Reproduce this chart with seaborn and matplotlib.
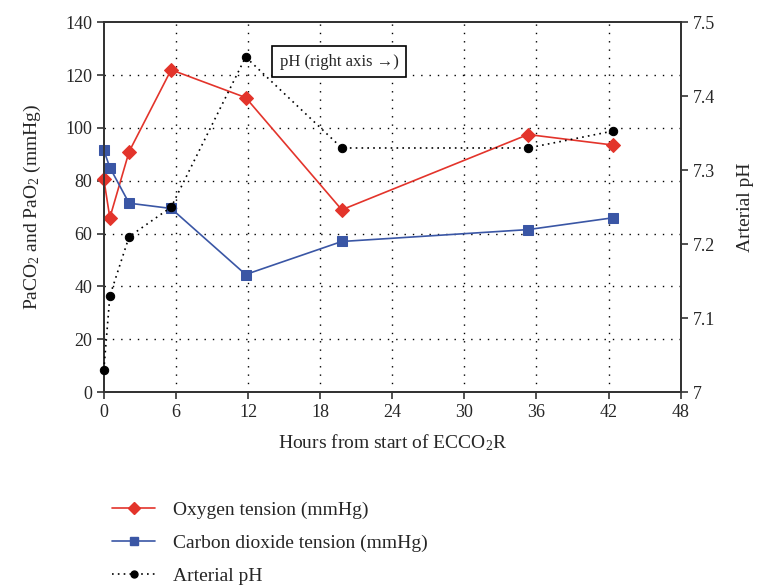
import numpy as np
import pandas as pd
import matplotlib
matplotlib.use("Agg")
import matplotlib.pyplot as plt
import seaborn as sns
from matplotlib.lines import Line2D

# donnees
hours = [0, 0.5, 2.1, 5.6, 11.8, 19.8, 35.3, 42.4]
oxygen = [80.5, 66, 91, 122, 111.5, 69, 97.5, 93.5]
co2 = [91.5, 85, 71.5, 69.5, 44.5, 57, 61.5, 66]
ph = [7.03, 7.13, 7.21, 7.25, 7.453, 7.33, 7.33, 7.353]

RED = "#e3342b"
BLUE = "#3a56a5"

sns.set_style("ticks")
plt.rcParams["font.family"] = ["Liberation Serif", "DejaVu Serif"]
plt.rcParams["mathtext.fontset"] = "custom"
plt.rcParams["mathtext.rm"] = "Liberation Serif"
plt.rcParams["mathtext.it"] = "Liberation Serif:italic"

fig = plt.figure(figsize=(7.58, 5.86), dpi=100)
ax = fig.add_axes([0.137, 0.331, 0.761, 0.631])
ax2 = ax.twinx()

# grille pointillee
for v in range(6, 48, 6):
    ax.axvline(v, color="black", lw=1.0, ls=(0, (1, 5)), zorder=0)
for v in range(20, 140, 20):
    ax.axhline(v, color="black", lw=1.0, ls=(0, (1, 5)), zorder=0)

sns.lineplot(x=hours, y=oxygen, ax=ax, color=RED, marker="D", markersize=7,
             markeredgecolor=RED, lw=1.2, zorder=3, clip_on=False)
sns.lineplot(x=hours, y=co2, ax=ax, color=BLUE, marker="s", markersize=7,
             markeredgecolor=BLUE, lw=1.2, zorder=3, clip_on=False)
sns.lineplot(x=hours, y=ph, ax=ax2, color="black", marker="o", markersize=6,
             markeredgecolor="black", lw=1.2, ls=(0, (1, 2.5)), zorder=3,
             clip_on=False)

ax.set_xlim(0, 48)
ax.set_ylim(0, 140)
ax2.set_ylim(7, 7.5)
ax.set_xticks(range(0, 49, 6))
ax.set_yticks(range(0, 141, 20))
ax2.set_yticks([7, 7.1, 7.2, 7.3, 7.4, 7.5])
ax2.set_yticklabels(["7", "7.1", "7.2", "7.3", "7.4", "7.5"])

for a in (ax, ax2):
    for s in a.spines.values():
        s.set_linewidth(1.3)
        s.set_color("#333333")
    a.tick_params(labelsize=13, width=1.2, length=5, color="#333333")

ax.set_xlabel("Hours from start of ECCO$_2$R", fontsize=14, labelpad=8)
ax.set_ylabel("PaCO$_2$ and PaO$_2$ (mmHg)", fontsize=14, labelpad=16)
ax2.set_ylabel("Arterial pH", fontsize=14, labelpad=16)

ax.text(19.6, 125, "pH (right axis \u2192)", fontsize=12, ha="center", va="center",
        bbox=dict(boxstyle="square,pad=0.45", fc="white", ec="black", lw=1.2),
        zorder=5)

handles = [
    Line2D([], [], color=RED, marker="D", markersize=6, lw=1.2),
    Line2D([], [], color=BLUE, marker="s", markersize=6, lw=1.2),
    Line2D([], [], color="black", marker="o", markersize=5, lw=1.2, ls=(0, (1, 2.5))),
]
labels = ["Oxygen tension (mmHg)", "Carbon dioxide tension (mmHg)", "Arterial pH"]
fig.legend(handles, labels, loc="lower left", bbox_to_anchor=(0.125, -0.028),
           frameon=False, fontsize=14, handlelength=2.2, handletextpad=0.9,
           labelspacing=0.8)

fig.savefig("out.png", dpi=100)
